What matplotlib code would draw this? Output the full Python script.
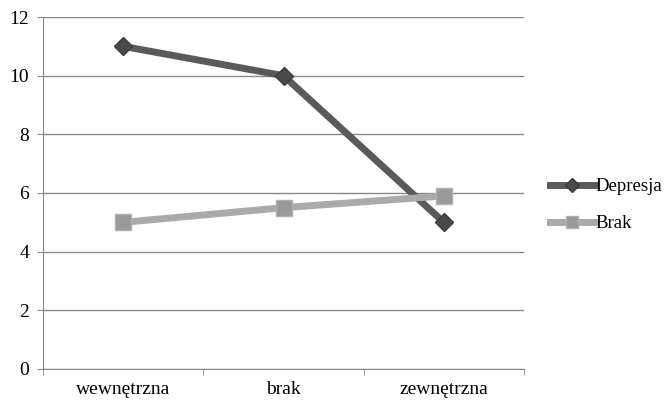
import numpy as np
import matplotlib.pyplot as plt

categories = ["wewnętrzna", "brak", "zewnętrzna"]
depresja = [11, 10, 5]
brak = [5, 5.5, 5.9]

plt.rcParams['font.family'] = ['Liberation Serif', 'DejaVu Serif']

fig = plt.figure(figsize=(6.67, 4.03), dpi=100)
ax = fig.add_axes([0.0645, 0.0844, 0.7211, 0.8734])

x = np.arange(len(categories))

ax.plot(x, depresja, color="#5a5a5a", lw=5, marker="D", ms=9, mfc="#4a4a4a", mec="#3a3a3a",
        label="Depresja", zorder=3)
ax.plot(x, brak, color="#aaaaaa", lw=5, marker="s", ms=11, mfc="#999999", mec="#b0b0b0",
        label="Brak", zorder=3)

ax.set_xlim(-0.5, 2.5)
ax.set_ylim(0, 12)
ax.set_yticks(range(0, 13, 2))
ax.set_xticks(x)
ax.set_xticklabels(categories)
ax.set_xticks([-0.5, 0.5, 1.5, 2.5], minor=True)
ax.tick_params(axis='x', which='major', length=0, pad=9, labelsize=14)
ax.tick_params(axis='x', which='minor', length=4, color="#888888")
ax.tick_params(axis='y', length=4, color="#888888", labelsize=14, pad=6)
ax.grid(axis='y', color="#888888", lw=1)
ax.set_axisbelow(True)
for s in ["top", "right"]:
    ax.spines[s].set_visible(False)
for s in ["left", "bottom"]:
    ax.spines[s].set_color("#888888")

leg = fig.legend(loc="upper left", bbox_to_anchor=(0.824, 0.558), frameon=False,
                 borderpad=0, borderaxespad=0,
                 fontsize=13.5, handlelength=2.4, handletextpad=0.05, labelspacing=1.05,
                 markerscale=0.75)

plt.savefig("out.png", dpi=100)
